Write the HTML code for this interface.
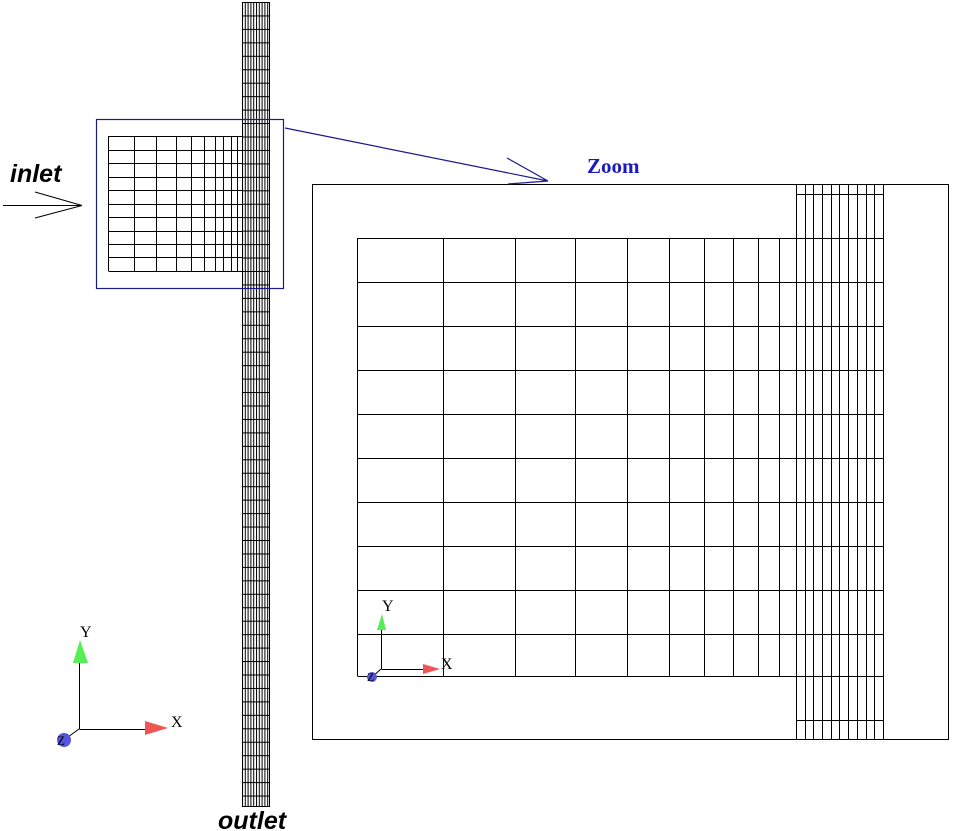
<!DOCTYPE html>
<html><head><meta charset="utf-8"><style>html,body{margin:0;padding:0;background:#fff}</style></head>
<body>
<svg width="955" height="831" viewBox="0 0 955 831" xmlns="http://www.w3.org/2000/svg" style="display:block">
<defs>
<pattern id="ch" x="242" y="2" width="2.8" height="13.45" patternUnits="userSpaceOnUse">
<rect x="0" y="0" width="1" height="13.45" fill="#000"/>
<rect x="0" y="0" width="2.8" height="1" fill="#000"/>
</pattern>
</defs>
<rect width="955" height="831" fill="#fff"/>
<rect x="242" y="2" width="28" height="805" fill="url(#ch)"/>
<rect x="242.5" y="2.5" width="27" height="804" fill="none" stroke="#000" stroke-width="1"/>
<g stroke="#000" stroke-width="1" fill="none">
<path d="M108.5 136.5H243 M108.5 150.5H243 M108.5 163.5H243 M108.5 177.5H243 M108.5 190.5H243 M108.5 204.5H243 M108.5 217.5H243 M108.5 231.5H243 M108.5 244.5H243 M108.5 257.5H243 M108.5 271.5H243
M108.5 136V271 M134.5 136V271 M156.5 136V271 M176.5 136V271 M191.5 136V271 M204.5 136V271 M215.5 136V271 M223.5 136V271 M231.5 136V271 M237.5 136V271"/>
<rect x="312.5" y="184.5" width="636" height="555"/>
<path d="M357.5 238.5H884 M357.5 282.5H884 M357.5 326.5H884 M357.5 370.5H884 M357.5 414.5H884 M357.5 458.5H884 M357.5 502.5H884 M357.5 546.5H884 M357.5 590.5H884 M357.5 634.5H884 M357.5 676.5H884
M357.5 238V676 M443.5 238V676 M515.5 238V676 M575.5 238V676 M627.5 238V676 M669.5 238V676 M704.5 238V676 M733.5 238V676 M758.5 238V676 M779.5 238V676
M796.5 184V739 M805.5 184V739 M813.5 184V739 M822.5 184V739 M831.5 184V739 M839.5 184V739 M848.5 184V739 M857.5 184V739 M866.5 184V739 M874.5 184V739 M883.5 184V739
M796 194.5H884 M796 720.5H884"/>
<path d="M3 205.5H82 M82 205.5L35 192 M82 205.5L35 218"/>
<path d="M79.5 729V655 M79.5 729.5H150 M79 729L64 740"/>
<path d="M381.5 669V625 M381.5 669.5H426 M381 669L372 677"/>
</g>
<g stroke="#1a1a8a" stroke-width="1.2" fill="none">
<rect x="96.5" y="119.5" width="187" height="169"/>
<path d="M285 128L548 181 M548 181L507 158 M548 181L508 184"/>
</g>
<polygon points="80,640 73,663 88,663" fill="#55ee55"/>
<polygon points="168,728 145,721 145,735" fill="#ee5555"/>
<circle cx="64" cy="740" r="7" fill="#5555dd"/>
<polygon points="382,614 377,630 386,630" fill="#55ee55"/>
<polygon points="440,669 423,664 423,674" fill="#ee5555"/>
<circle cx="372" cy="677" r="5" fill="#5555dd"/>
<g font-family="Liberation Serif, serif" font-size="16" fill="#000">
<text x="80" y="637">Y</text><text x="171" y="727">X</text><text x="57" y="745" font-size="13">Z</text>
<text x="382" y="611">Y</text><text x="441" y="669">X</text><text x="367" y="681" font-size="12">Z</text>
</g>
<text x="587" y="173" font-family="Liberation Serif, serif" font-weight="bold" font-size="21" fill="#1a1ac0">Zoom</text>
<text x="10" y="182" font-family="Liberation Sans, sans-serif" font-weight="bold" font-style="italic" font-size="25" fill="#000">inlet</text>
<text x="218" y="829" font-family="Liberation Sans, sans-serif" font-weight="bold" font-style="italic" font-size="25" fill="#000">outlet</text>
</svg>
</body></html>
